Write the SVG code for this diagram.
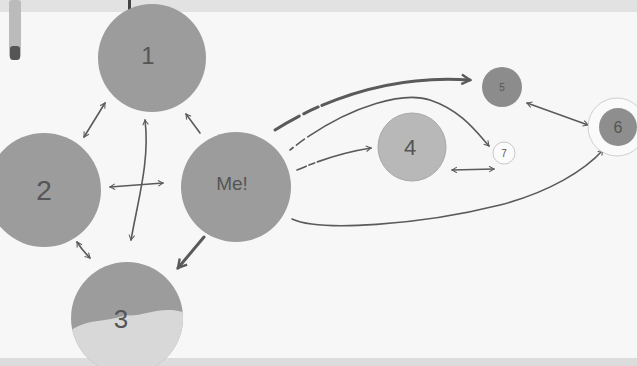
<svg xmlns="http://www.w3.org/2000/svg" width="637" height="366" viewBox="0 0 637 366">
<defs>
<style>
.bg{fill:#f7f7f7}
.node{fill:#9c9c9c}
.lbl{font-family:"Liberation Sans",sans-serif;fill:#555;text-anchor:middle;font-weight:300}
.c{fill:none;stroke:#5a5a5a;stroke-width:1.6;stroke-linecap:round}
.thick{stroke-width:3}
</style>
<clipPath id="clip3"><circle cx="127" cy="318" r="56"/></clipPath>
<marker id="ah" viewBox="0 0 10 10" refX="8" refY="5" markerWidth="7" markerHeight="7" orient="auto-start-reverse" markerUnits="userSpaceOnUse">
<path d="M1,1 L8,5 L1,9" fill="none" stroke="#5a5a5a" stroke-width="1.5"/>
</marker>
<marker id="ahb" viewBox="0 0 10 10" refX="8" refY="5" markerWidth="12" markerHeight="12" orient="auto-start-reverse" markerUnits="userSpaceOnUse">
<path d="M1,1 L8,5 L1,9" fill="none" stroke="#5a5a5a" stroke-width="2"/>
</marker>
</defs>
<rect class="bg" x="0" y="0" width="637" height="366"/>
<rect x="0" y="0" width="637" height="12" fill="#e2e2e2"/>
<rect x="0" y="358" width="637" height="8" fill="#dcdcdc"/>
<rect x="128" y="0" width="3" height="12" fill="#444"/>
<rect x="9" y="0" width="12" height="58" rx="3" fill="#bbb"/>
<rect x="10" y="46" width="10" height="14" rx="3" fill="#555"/>

<g id="connectors">
<path class="c" d="M84,137 L105,103" marker-start="url(#ah)" marker-end="url(#ah)"/>
<path class="c" d="M145,120 C150,160 138,200 131,240" marker-start="url(#ah)" marker-end="url(#ah)"/>
<path class="c" d="M110,187 L163,183" marker-start="url(#ah)" marker-end="url(#ah)"/>
<path class="c" d="M200,133 L186,114" marker-end="url(#ah)"/>
<path class="c thick" d="M204,237 L178,268" marker-end="url(#ahb)"/>
<path class="c" d="M77,242 C82,250 86,254 90,258" marker-start="url(#ah)" marker-end="url(#ah)"/>
<path class="c thick" d="M275,130 C330,95 400,75 470,80" stroke-dasharray="28,5,16,4,300" marker-end="url(#ahb)"/>
<path class="c" d="M290,150 C340,110 400,90 430,100 C460,110 475,130 489,146" stroke-dasharray="4,4,10,4,400" marker-end="url(#ah)"/>
<path class="c" d="M297,170 C320,160 345,152 371,148" stroke-dasharray="10,3,6,3,200" marker-end="url(#ah)"/>
<path class="c" d="M452,170 L494,169" marker-start="url(#ah)" marker-end="url(#ah)"/>
<path class="c" d="M527,103 L588,125" marker-start="url(#ah)" marker-end="url(#ah)"/>
<path class="c" d="M292,219 C320,232 420,225 500,205 C550,192 585,170 603,150" marker-end="url(#ah)"/>
</g>

<g id="node1"><circle class="node" cx="152" cy="58" r="54"/><text class="lbl" x="148" y="64" font-size="24">1</text></g>
<g id="node2"><circle class="node" cx="44" cy="190" r="57"/><text class="lbl" x="44" y="200" font-size="28">2</text></g>
<g id="nodeMe"><circle class="node" cx="236" cy="187" r="55"/><text class="lbl" x="232" y="190" font-size="19">Me!</text></g>
<g id="node3"><circle class="node" cx="127" cy="318" r="56"/><path clip-path="url(#clip3)" d="M71,330 C90,318 110,322 125,315 C140,318 160,305 183,312 L183,380 L71,380 Z" fill="#d8d8d8"/><text class="lbl" x="121" y="328" font-size="26">3</text></g>
<g id="node4"><circle cx="412" cy="147" r="34" fill="#b8b8b8" stroke="#a8a8a8"/><text class="lbl" x="410" y="155" font-size="22">4</text></g>
<g id="node5"><circle cx="502" cy="87" r="20" fill="#8c8c8c"/><text class="lbl" x="502" y="91" font-size="10">5</text></g>
<g id="node6"><circle cx="617" cy="127" r="29" fill="#fafafa" stroke="#d0d0d0"/><circle cx="618" cy="127" r="19" fill="#8e8e8e"/><text class="lbl" x="618" y="133" font-size="16">6</text></g>
<g id="node7"><circle cx="504" cy="153" r="11" fill="#fbfbfb" stroke="#c8c8c8"/><text class="lbl" x="504" y="157" font-size="10">7</text></g>
</svg>
